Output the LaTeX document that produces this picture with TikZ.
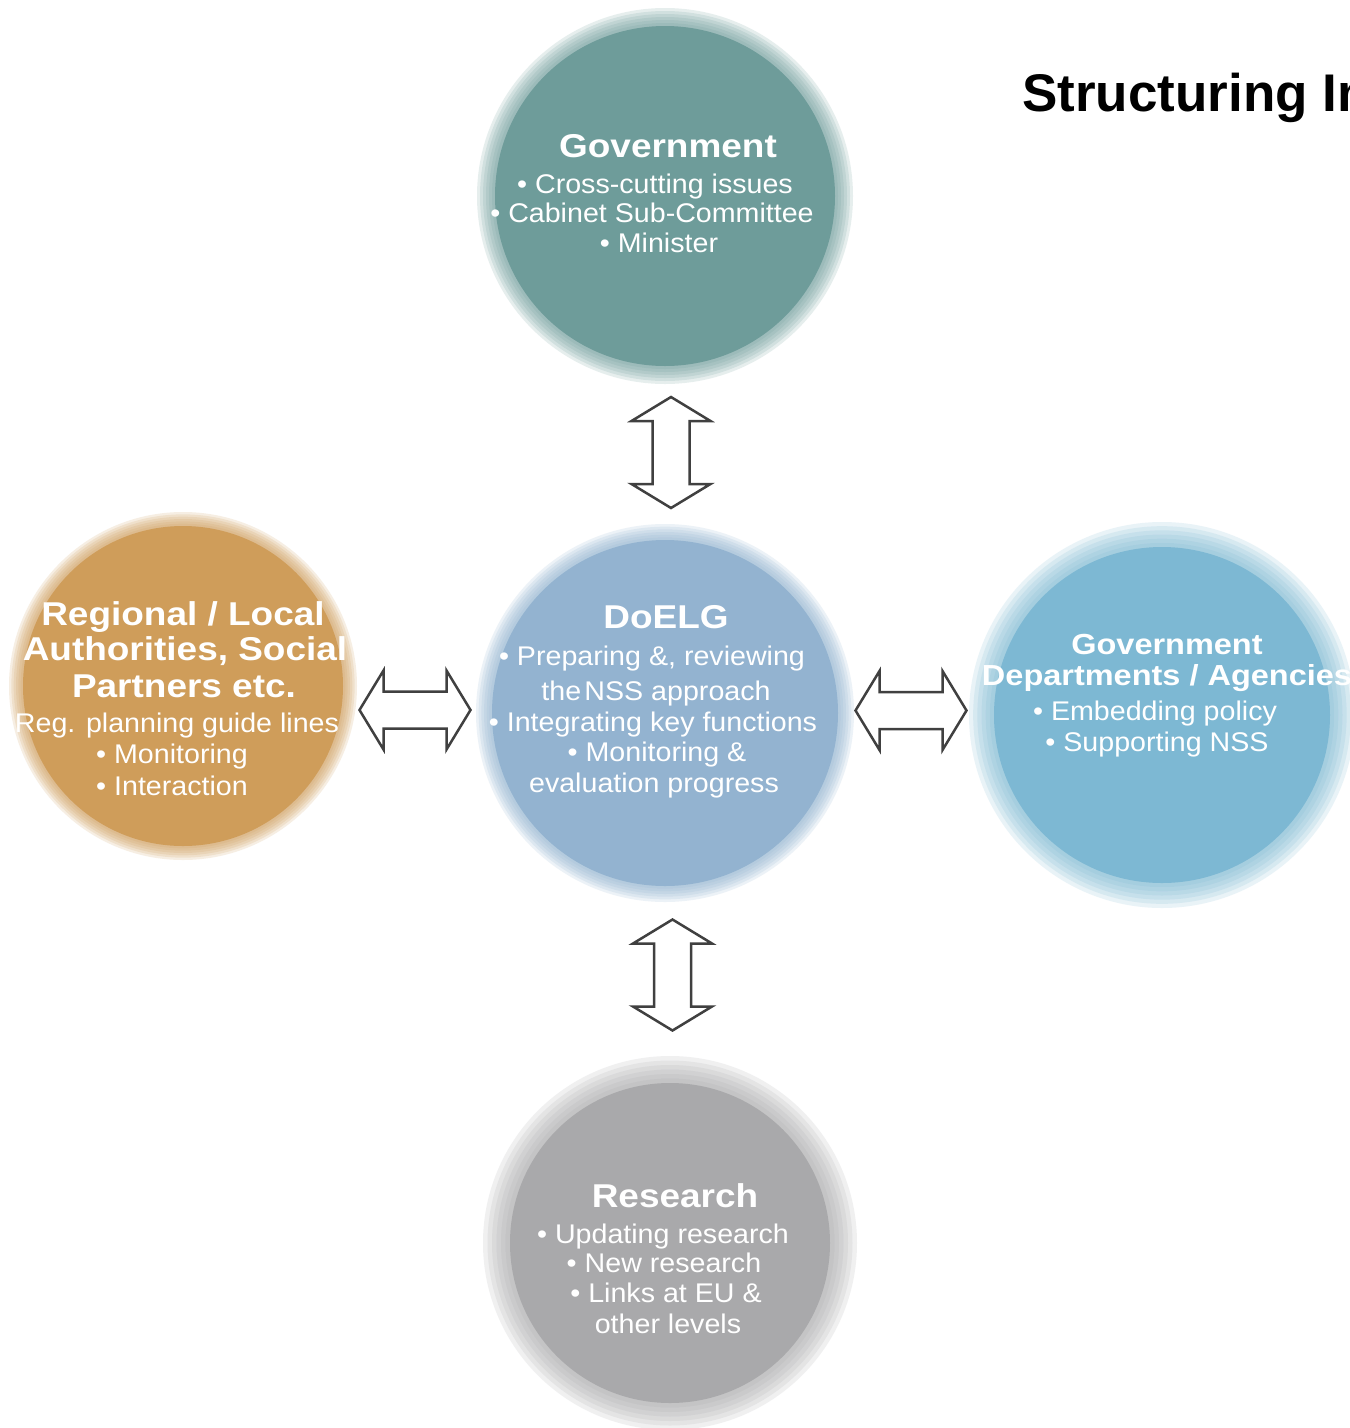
\documentclass[tikz,border=0pt]{standalone}
\usepackage{fontspec}
\setmainfont{Liberation Sans}
\newfontfamily\regfont[FakeStretch=1.06]{Liberation Sans}
\newfontfamily\boldfont[FakeStretch=1.12]{Liberation Sans}
\newfontfamily\titlefont{Liberation Sans}
\usetikzlibrary{calc}
\definecolor{govc}{RGB}{110,156,154}
\definecolor{doelgc}{RGB}{147,179,208}
\definecolor{regc}{RGB}{207,157,90}
\definecolor{deptc}{RGB}{125,184,211}
\definecolor{resc}{RGB}{169,169,171}
\definecolor{arrowc}{RGB}{64,64,64}
\newcommand\fsz[1]{\fontsize{#1}{#1}\selectfont}
% name, x, y, inner radius, outer radius, colour
\newcommand\glowdisc[6]{%
  \foreach \k in {1,...,6}{%
    \fill[#6, opacity=0.17] (#2,#3) circle[radius={(#4+(#5-#4)*\k/6)*1pt}];
  }
  \fill[#6] (#2,#3) circle[radius={#4*1pt}];
  \node[circle, minimum size={2*#5pt}, inner sep=0pt] (#1) at (#2,#3) {};
}
\tikzset{
  ttl/.style={anchor=base, text=white, inner sep=0pt, font=\boldfont\bfseries\fsz{33}},
  txt/.style={anchor=base, text=white, inner sep=0pt, font=\regfont\fsz{27}},
  dblarrow/.pic={
    \draw[line width=2.5pt, draw=arrowc, fill=white, line join=miter]
      (0,55.5) -- (39.5,31.5) -- (18.5,31.5) -- (18.5,-31.5) -- (39.5,-31.5)
      -- (0,-55.5) -- (-39.5,-31.5) -- (-18.5,-31.5) -- (-18.5,31.5)
      -- (-39.5,31.5) -- cycle;
  }
}
\begin{document}
\begin{tikzpicture}[x=1pt, y=-1pt]
\path[use as bounding box] (0,0) rectangle (1350,1428);
\clip (0,0) rectangle (1350,1428);
\fill[white] (0,0) rectangle (1350,1428);

% title
\node[anchor=base west, inner sep=0pt, font=\titlefont\bfseries\fsz{53}] (title) at (1022,111) {Structuring Implementation};

% circles
\glowdisc{gov}{665}{196}{170}{188}{govc}
\glowdisc{doelg}{665}{713}{173}{189}{doelgc}
\glowdisc{reg}{183}{686}{160}{174}{regc}
\glowdisc{dept}{1162}{715}{168}{193}{deptc}
\glowdisc{res}{670}{1243}{160}{187}{resc}

% arrows between the circles
\pic at ($(gov.south)!0.5!(doelg.north)+(6,-1.5)$) {dblarrow};
\pic at ($(doelg.south)!0.5!(res.north)+(5,-4)$) {dblarrow};
\pic[rotate=90] at ($(reg.east)!0.5!(doelg.west)+(-1.5,10.5)$) {dblarrow};
\pic[rotate=90] at ($(doelg.east)!0.5!(dept.west)+(-0.5,-3.5)$) {dblarrow};

% Government
\node[ttl] (govT) at (668,157) {Government};
\node[txt] (govA) at (655,193) {• Cross-cutting issues};
\node[txt] (govB) at (652,222) {• Cabinet Sub-Committee};
\node[txt] (govC) at (659,252) {• Minister};

% DoELG
\node[ttl] (doT) at (666,628) {DoELG};
\node[txt] (doA) at (652,665) {• Preparing \&, reviewing};
\node[txt] (doB) at (656,700) {the\hspace{0.12em}NSS approach};
\node[txt] (doC) at (653,731) {• Integrating key functions};
\node[txt] (doD) at (657,761) {• Monitoring \&};
\node[txt] (doE) at (654,792) {evaluation progress};

% Regional
\node[ttl] (regT1) at (183,625) {Regional / Local};
\node[ttl] (regT2) at (185,660) {Authorities, Social};
\node[ttl] (regT3) at (184,697) {Partners etc.};
\node[txt] (regA) at (177,732) {Reg. planning guide lines};
\node[txt] (regB) at (172,763) {• Monitoring};
\node[txt] (regC) at (172,795) {• Interaction};

% Government Departments
\node[ttl, font=\boldfont\bfseries\fsz{29}] (depT1) at (1167,654) {Government};
\node[ttl, font=\boldfont\bfseries\fsz{29}] (depT2) at (1167,685) {Departments / Agencies};
\node[txt] (depA) at (1155,720) {• Embedding policy};
\node[txt] (depB) at (1157,751) {• Supporting NSS};

% Research
\node[ttl] (resT) at (675,1207) {Research};
\node[txt] (resA) at (663,1243) {• Updating research};
\node[txt] (resB) at (664,1272) {• New research};
\node[txt] (resC) at (666,1302) {• Links at EU \&};
\node[txt] (resD) at (668,1333) {other levels};
\end{tikzpicture}
\end{document}
